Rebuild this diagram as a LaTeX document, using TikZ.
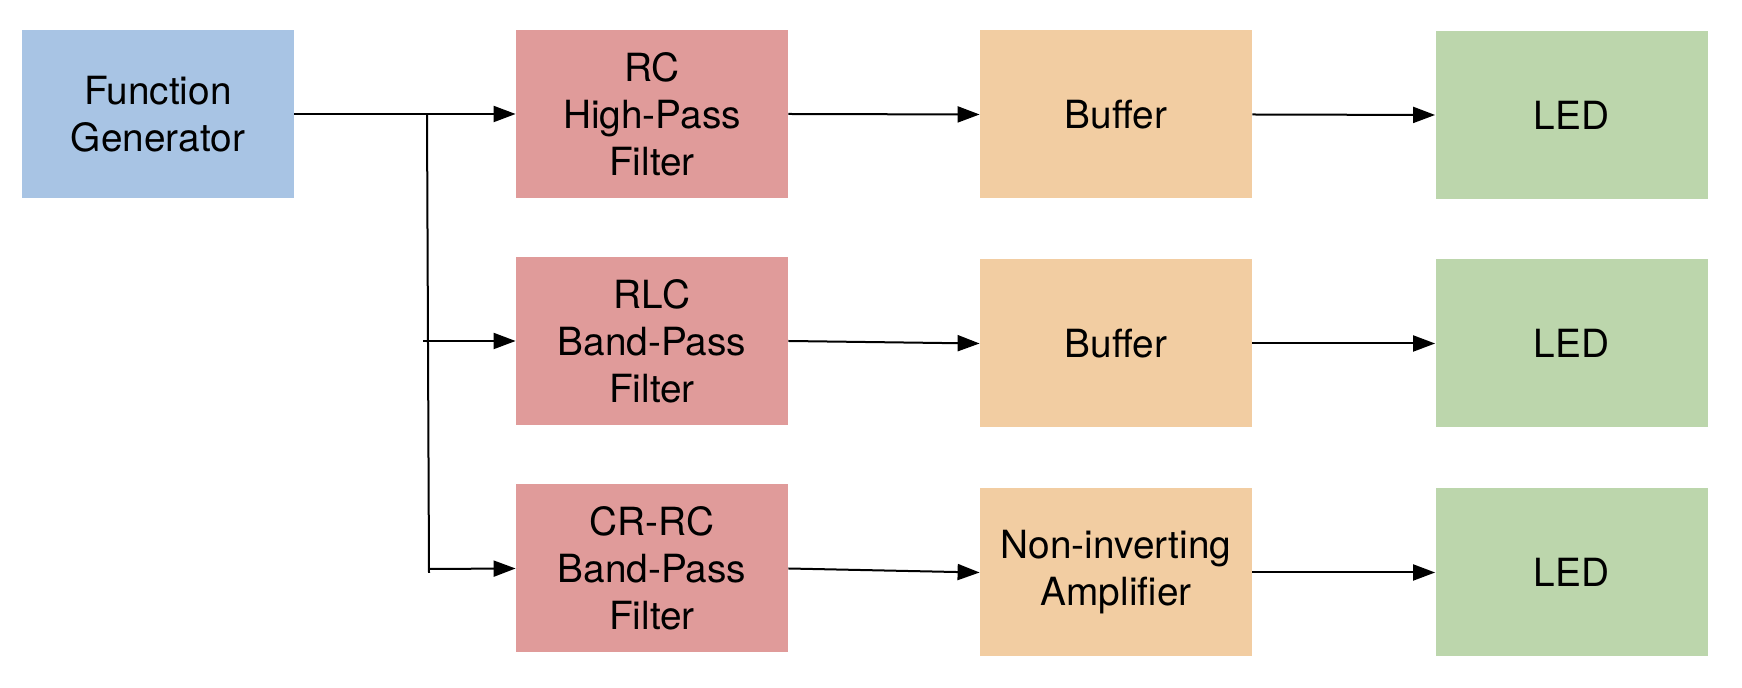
\documentclass[tikz,border=0pt]{standalone}
\usepackage{fontspec}
\setmainfont{TeX Gyre Heros}
\usetikzlibrary{arrows.meta}
\definecolor{fgblue}{HTML}{A8C4E4}
\definecolor{filtred}{HTML}{E09B9A}
\definecolor{bufor}{HTML}{F2CDA2}
\definecolor{ledgreen}{HTML}{BCD6AC}
\tikzset{
  blk/.style={inner sep=0pt, minimum width=136pt, minimum height=84pt, align=center,
    font=\fontsize{19.4pt}{23.5pt}\selectfont},
  conn/.style={line width=1pt, -{Triangle[length=11pt,width=8pt]}},
  wire/.style={line width=1pt}
}
\begin{document}
\begin{tikzpicture}[x=0.5pt,y=-0.5pt]
\fill[white] (0,0) rectangle (1742,688);
\useasboundingbox (0,0) rectangle (1742,688);
% column 1
\node[blk, fill=fgblue] (fg) at (158,114) {Function\\Generator};
% filters
\node[blk, fill=filtred] (f1) at (652,114) {RC\\High-Pass\\Filter};
\node[blk, fill=filtred] (f2) at (652,341) {RLC\\Band-Pass\\Filter};
\node[blk, fill=filtred] (f3) at (652,568.5) {CR-RC\\Band-Pass\\Filter};
% stage 3
\node[blk, fill=bufor] (b1) at (1116,114.5) {Buffer};
\node[blk, fill=bufor] (b2) at (1116,343.5) {Buffer};
\node[blk, fill=bufor] (b3) at (1116,572.5) {Non-inverting\\Amplifier};
% LEDs
\node[blk, fill=ledgreen] (l1) at (1571.5,115) {LED};
\node[blk, fill=ledgreen] (l2) at (1571.5,343.5) {LED};
\node[blk, fill=ledgreen] (l3) at (1571.5,572.5) {LED};
% distribution
\coordinate (vt) at (427,115);
\coordinate (vb) at (429,573);
\coordinate (m) at (423,341);
\coordinate (bt) at (428.5,569);
\draw[conn] (fg.east) -- (f1.west);
\draw[wire] (vt) -- (vb);
\draw[conn] (m) -- (f2.west);
\draw[conn] (bt) -- (f3.west);
% chains
\draw[conn] (f1.east) -- (b1.west);
\draw[conn] (f2.east) -- (b2.west);
\draw[conn] (f3.east) -- (b3.west);
\draw[conn] (b1.east) -- (l1.west);
\draw[conn] (b2.east) -- (l2.west);
\draw[conn] (b3.east) -- (l3.west);
\end{tikzpicture}
\end{document}
